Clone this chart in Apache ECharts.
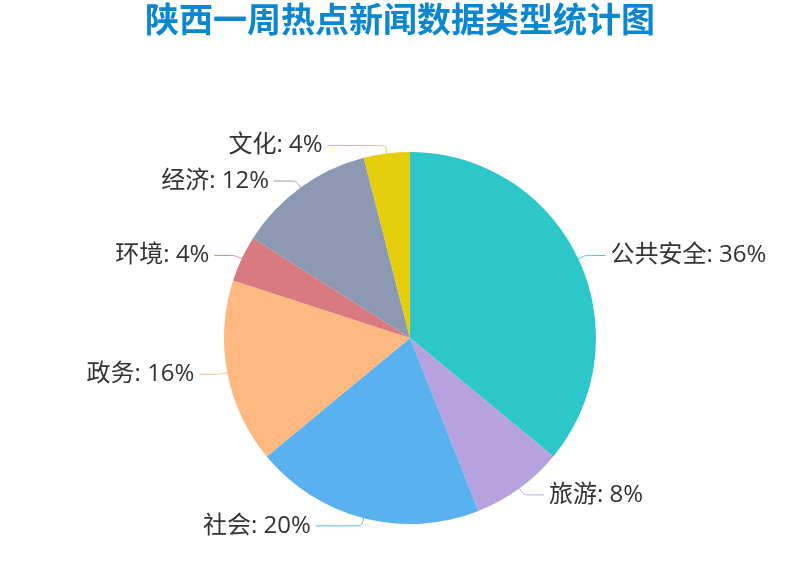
<!DOCTYPE html>
<html><head><meta charset="utf-8">
<script src="https://cdn.jsdelivr.net/npm/echarts@6/dist/echarts.min.js"></script>
<style>html,body{margin:0;padding:0;background:#fff}#c{width:800px;height:582px}</style>
</head><body><div id="c"></div>
<script>
const titleText = '陕西一周热点新闻数据类型统计图';
const categories = ['公共安全','旅游','社会','政务','环境','经济','文化'];
const values = [36, 8, 20, 16, 4, 12, 4];
const colors = ['#2ec7c9','#b6a2de','#5ab1ef','#ffb980','#d87a80','#8d98b3','#e5cf0d'];
const lineTail = [20, 20, 46, 20, 20, 22, 58];
const chart = echarts.init(document.getElementById('c'));
const ff = '"Open Sans", "Noto Sans CJK SC", sans-serif';
chart.setOption({
  title: {text: titleText, left: 'center', top: 0,
    textStyle: {color: '#0a87d0', fontSize: 34, fontWeight: 'bold', fontFamily: ff}},
  color: colors,
  series: [{
    type: 'pie', center: [410, 338], radius: 186, startAngle: 90, clockwise: true,
    data: categories.map((c, i) => ({name: c, value: values[i], labelLine: {length2: lineTail[i]}})),
    label: {formatter: '{b}: {d}%', fontSize: 24, color: '#333', fontFamily: ff},
    labelLine: {length: 8, length2: 20, smooth: 0.2},
    animation: false
  }]
});
</script></body></html>
